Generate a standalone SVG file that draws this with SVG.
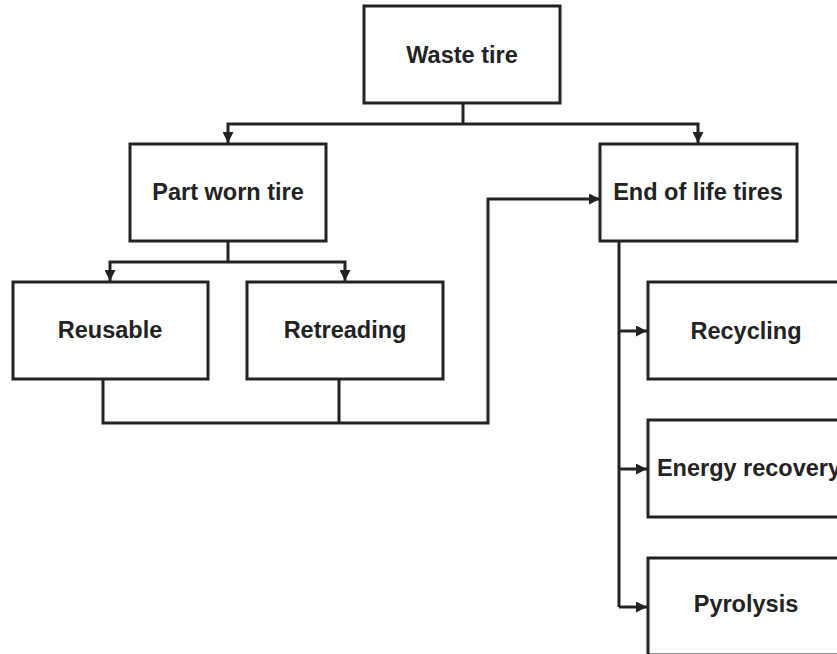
<svg xmlns="http://www.w3.org/2000/svg" width="837" height="654" viewBox="0 0 837 654">
<style>
.box{fill:#fff;stroke:#222;stroke-width:3}
.lbl{font-family:"Liberation Sans",Arial,sans-serif;font-weight:bold;font-size:23.5px;fill:#222;text-anchor:middle}
.ln{fill:none;stroke:#222;stroke-width:3;stroke-linejoin:miter}
</style>
<defs>
<marker id="ah" viewBox="0 0 10 10" refX="10" refY="5" markerWidth="11" markerHeight="11" markerUnits="userSpaceOnUse" orient="auto">
<path d="M0,0 L10,5 L0,10 Z" fill="#222"/>
</marker>
</defs>
<rect width="837" height="654" fill="#fff"/>
<g id="connectors">
<path class="ln" d="M463,103 V124"/>
<path class="ln" d="M463,124 H228 V143" marker-end="url(#ah)"/>
<path class="ln" d="M463,124 H698 V143" marker-end="url(#ah)"/>
<path class="ln" d="M228,241 V262"/>
<path class="ln" d="M228,262 H110 V281" marker-end="url(#ah)"/>
<path class="ln" d="M228,262 H345 V281" marker-end="url(#ah)"/>
<path class="ln" d="M103,379 V423 H488 V199 H600" marker-end="url(#ah)"/>
<path class="ln" d="M339,379 V423"/>
<path class="ln" d="M619,241 V607"/>
<path class="ln" d="M619,331 H647" marker-end="url(#ah)"/>
<path class="ln" d="M619,469 H647" marker-end="url(#ah)"/>
<path class="ln" d="M619,607 H647" marker-end="url(#ah)"/>
</g>
<g id="waste-tire"><rect class="box" x="364" y="6" width="196" height="97"/><text class="lbl" x="462" y="63">Waste tire</text></g>
<g id="part-worn-tire"><rect class="box" x="130" y="144" width="196" height="97"/><text class="lbl" x="228" y="200">Part worn tire</text></g>
<g id="end-of-life-tires"><rect class="box" x="600" y="144" width="197" height="97"/><text class="lbl" x="698" y="200">End of life tires</text></g>
<g id="reusable"><rect class="box" x="13" y="282" width="195" height="97"/><text class="lbl" x="110" y="338">Reusable</text></g>
<g id="retreading"><rect class="box" x="247" y="282" width="196" height="97"/><text class="lbl" x="345" y="338">Retreading</text></g>
<g id="recycling"><rect class="box" x="648" y="282" width="197" height="97"/><text class="lbl" x="746" y="339">Recycling</text></g>
<g id="energy-recovery"><rect class="box" x="648" y="420" width="197" height="97"/><text class="lbl" x="749" y="476">Energy recovery</text></g>
<g id="pyrolysis"><rect class="box" x="648" y="558" width="197" height="97"/><text class="lbl" x="746" y="612">Pyrolysis</text></g>
</svg>
